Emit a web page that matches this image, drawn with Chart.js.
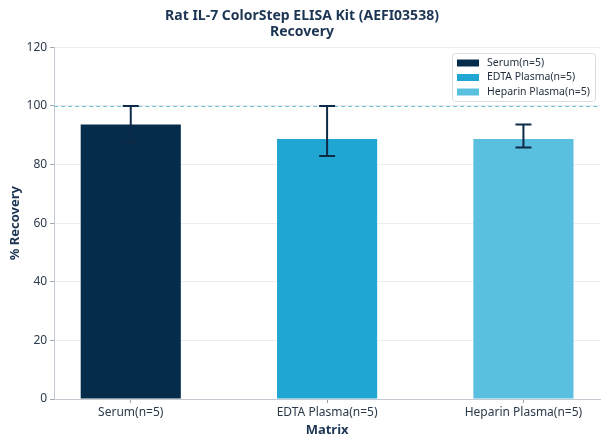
<!DOCTYPE html>
<html>
<head>
<meta charset="utf-8">
<script src="https://cdn.jsdelivr.net/npm/chart.js@4/dist/chart.umd.min.js"></script>
<style>
  html, body { margin: 0; padding: 0; background: #fff; }
  #wrap { width: 608px; height: 444px; }
</style>
</head>
<body>
<div id="wrap"><canvas id="recoveryChart"></canvas></div>
<script>
let categories = ['Serum(n=5)', 'EDTA Plasma(n=5)', 'Heparin Plasma(n=5)'];
let recovery = [93.7, 88.7, 88.7];
let errLow = [87.4, 82.9, 85.8];
let errHigh = [100, 100, 93.7];
let yTicks = [0, 20, 40, 60, 80, 100, 120];
let targetLine = 100;

let barColors = ['#052c4b', '#1fa6d3', '#5bbfe0'];
let navy = '#0d2a47';

Chart.defaults.font.family = "'Noto Sans', 'Open Sans', sans-serif";
Chart.defaults.color = '#2b3a4a';

// dashed 100% line and error bars, placed through the scales
let extras = {
    id: 'extras',
    beforeDatasetsDraw(chart) {
        let c = chart.ctx, a = chart.chartArea;
        let y = Math.round(chart.scales.y.getPixelForValue(targetLine)) + 0.5;
        c.save();
        c.strokeStyle = '#6fc3d3';
        c.lineWidth = 1;
        c.setLineDash([4, 3]);
        c.beginPath();
        c.moveTo(a.left, y);
        c.lineTo(a.right, y);
        c.stroke();
        c.restore();
    },
    afterDatasetsDraw(chart) {
        let c = chart.ctx, xs = chart.scales.x, ys = chart.scales.y;
        c.save();
        c.strokeStyle = navy;
        c.lineWidth = 2;
        recovery.forEach((v, i) => {
            let x = xs.getPixelForValue(i);
            let top = ys.getPixelForValue(errHigh[i]);
            let bot = ys.getPixelForValue(errLow[i]);
            c.beginPath();
            c.moveTo(x, top); c.lineTo(x, bot);
            c.moveTo(x - 8, top); c.lineTo(x + 8, top);
            c.moveTo(x - 8, bot); c.lineTo(x + 8, bot);
            c.stroke();
        });
        c.restore();
    },
    afterDraw(chart) {
        // legend box inside the plot, top right
        let c = chart.ctx, a = chart.chartArea;
        c.save();
        c.font = "10.5px 'Noto Sans', sans-serif";
        let tw = Math.max(...categories.map(t => c.measureText(t).width));
        let w = Math.round(35 + tw + 5), h = 48;
        let bx = Math.round(a.right - w - 5), by = Math.round(a.top + 6);
        c.fillStyle = 'rgba(255,255,255,0.9)';
        c.strokeStyle = '#d9dde1';
        c.lineWidth = 1;
        c.beginPath();
        c.roundRect(bx + 0.5, by + 0.5, w, h, 3);
        c.fill();
        c.stroke();
        c.textBaseline = 'middle';
        categories.forEach((name, i) => {
            let ry = by + 10 + i * 14.5;
            c.fillStyle = barColors[i];
            c.fillRect(bx + 5, ry - 3.5, 22, 7);
            c.fillStyle = '#1f2d3d';
            c.fillText(name, bx + 35, ry);
        });
        c.restore();
    }
};

new Chart(document.getElementById('recoveryChart'), {
    type: 'bar',
    data: {
        datasets: [{
            label: 'Recovery',
            data: recovery.map((v, i) => ({ x: i, y: v })),
            backgroundColor: barColors,
            borderWidth: 0,
            barPercentage: 0.51,
            categoryPercentage: 1
        }]
    },
    plugins: [extras],
    options: {
        responsive: true,
        maintainAspectRatio: false,
        animation: false,
        layout: { padding: { left: 4, right: 8, top: 0, bottom: 4 } },
        plugins: {
            legend: { display: false },
            tooltip: { enabled: false },
            title: {
                display: true,
                text: ['Rat IL-7 ColorStep ELISA Kit (AEFI03538)', 'Recovery'],
                color: '#1c3553',
                font: { size: 14, weight: 'bold', lineHeight: 1.12 },
                padding: { top: 8, bottom: 8 }
            }
        },
        scales: {
            x: {
                type: 'linear',
                min: -0.39,
                max: 2.39,
                offset: false,
                grid: { offset: false, drawOnChartArea: false, drawTicks: true, tickLength: 4, tickColor: '#9aa4ad' },
                border: { color: '#c3cad1', width: 1 },
                ticks: {
                    stepSize: 1,
                    includeBounds: false,
                    autoSkip: false,
                    maxRotation: 0,
                    padding: 2,
                    font: { size: 12 },
                    callback: (v) => categories[v]
                },
                title: {
                    display: true,
                    text: 'Matrix',
                    color: '#1c3553',
                    font: { size: 13, weight: 'bold' },
                    padding: { top: 1, bottom: 2 }
                }
            },
            y: {
                min: 0,
                max: 120,
                afterBuildTicks: (s) => { s.ticks = yTicks.map(v => ({ value: v })); },
                grid: { color: '#e9edf0', drawTicks: true, tickLength: 4, tickColor: '#9aa4ad' },
                border: { color: '#c3cad1', width: 1 },
                ticks: { padding: 3, font: { size: 12 } },
                title: {
                    display: true,
                    text: '% Recovery',
                    color: '#1c3553',
                    font: { size: 13, weight: 'bold' },
                    padding: { top: 3, bottom: 1 }
                }
            }
        }
    }
});
</script>
</body>
</html>
